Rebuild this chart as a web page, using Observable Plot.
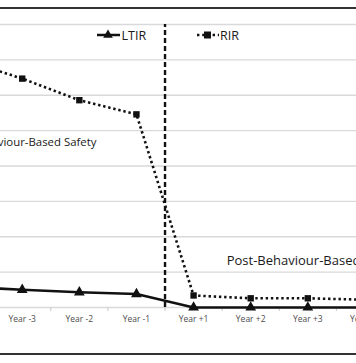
<!DOCTYPE html>
<html><head><meta charset="utf-8">
<script src="https://cdn.jsdelivr.net/npm/d3@7"></script>
<script src="https://cdn.jsdelivr.net/npm/@observablehq/plot@0.6"></script>
<style>
body{margin:0;background:#fff;}
#wrap{position:relative;width:356px;height:363px;overflow:hidden;background:#fff;font-family:"Open Sans",sans-serif;}
#wrap svg{position:absolute;left:0;top:0;overflow:hidden;}
.hr{position:absolute;left:0;width:356px;height:2px;background:#333;z-index:2;}
</style></head><body>
<div id="wrap"><div class="hr" style="top:7px"></div><div class="hr" style="top:353px"></div></div>
<script>
// Categories and series (y in arbitrary gridline units)
const years = ["Year -4","Year -3","Year -2","Year -1","Year +1","Year +2","Year +3","Year +4"];
const ltir = [0.59, 0.50, 0.43, 0.38, 0, 0, 0, 0];
const rir  = [6.99, 6.47, 5.86, 5.46, 0.34, 0.26, 0.26, 0.22];
const yTicks = [0,1,2,3,4,5,6,7,8];
const splitAt = [3.5];
const preLabel = [{text:"Pre-Behaviour-Based Safety", i:2.30, v:4.68}];
const postLabel = [{text:"Post-Behaviour-Based Safety", i:4.58, v:1.32}];
const seriesNames = ["LTIR","RIR"];

const data = years.map((year, i) => ({i, year, ltir: ltir[i], rir: rir[i]}));
const idx = d3.range(years.length);
const bounds = d3.range(0.5, years.length - 1, 1);

const plot = Plot.plot({
  width: 356, height: 363,
  marginTop: 24, marginBottom: 56, marginLeft: 0, marginRight: 0,
  style: {fontFamily: "Open Sans", background: "transparent"},
  x: {type: "linear", domain: [-0.5, 7.5], range: [-63.96, 393.0], axis: null},
  y: {domain: [0, 8], axis: null},
  marks: [
    Plot.ruleY(yTicks, {stroke: "#d9d9d9", strokeWidth: 1.4}),
    Plot.axisX(bounds, {tickSize: 4, tickFormat: () => "", stroke: "#c8c8c8", label: null}),
    Plot.axisX(idx, {tickSize: 0, tickPadding: 8, tickFormat: i => years[i], fontSize: 8.5, fill: "#4d4d4d", label: null}),
    Plot.ruleX(splitAt, {y1: 0, y2: 8, stroke: "#111", strokeWidth: 2.4, strokeDasharray: "5,3"}),
    Plot.line(data, {x: "i", y: "ltir", stroke: "#111", strokeWidth: 2.6}),
    Plot.dot(data, {x: "i", y: "ltir", symbol: "triangle", fill: "#111", r: 4}),
    Plot.line(data, {x: "i", y: "rir", stroke: "#111", strokeWidth: 2.6, strokeDasharray: "2.4,2.8", strokeLinecap: "butt"}),
    Plot.dot(data, {x: "i", y: "rir", symbol: "square", fill: "#111", r: 3.6}),
    Plot.text(preLabel, {x: "i", y: "v", text: "text", textAnchor: "end", fontSize: 11.4, fill: "#1a1a1a"}),
    Plot.text(postLabel, {x: "i", y: "v", text: "text", textAnchor: "start", fontSize: 13, fill: "#1a1a1a"})
  ]
});
document.getElementById("wrap").appendChild(plot);

// Legend inside plot area
const svg = d3.select(plot);
const lg = svg.append("g").attr("font-family", "Open Sans").attr("font-size", 12.5).attr("fill", "#1a1a1a").attr("text-anchor", "start");
// LTIR
lg.append("line").attr("x1", 97).attr("x2", 120).attr("y1", 35).attr("y2", 35).attr("stroke", "#111").attr("stroke-width", 2.5);
lg.append("path").attr("d", d3.symbol(d3.symbolTriangle, 40)()).attr("transform", "translate(108,35)").attr("fill", "#111");
lg.append("text").attr("x", 121.5).attr("y", 39.5).attr("text-anchor", "start").text(seriesNames[0]);
// RIR
lg.append("line").attr("x1", 197).attr("x2", 219).attr("y1", 35).attr("y2", 35).attr("stroke", "#111").attr("stroke-width", 2.5).attr("stroke-dasharray", "2.4,2.8");
lg.append("rect").attr("x", 204).attr("y", 31.5).attr("width", 7).attr("height", 7).attr("fill", "#111");
lg.append("text").attr("x", 220).attr("y", 39.5).attr("text-anchor", "start").text(seriesNames[1]);
</script>
</body></html>
